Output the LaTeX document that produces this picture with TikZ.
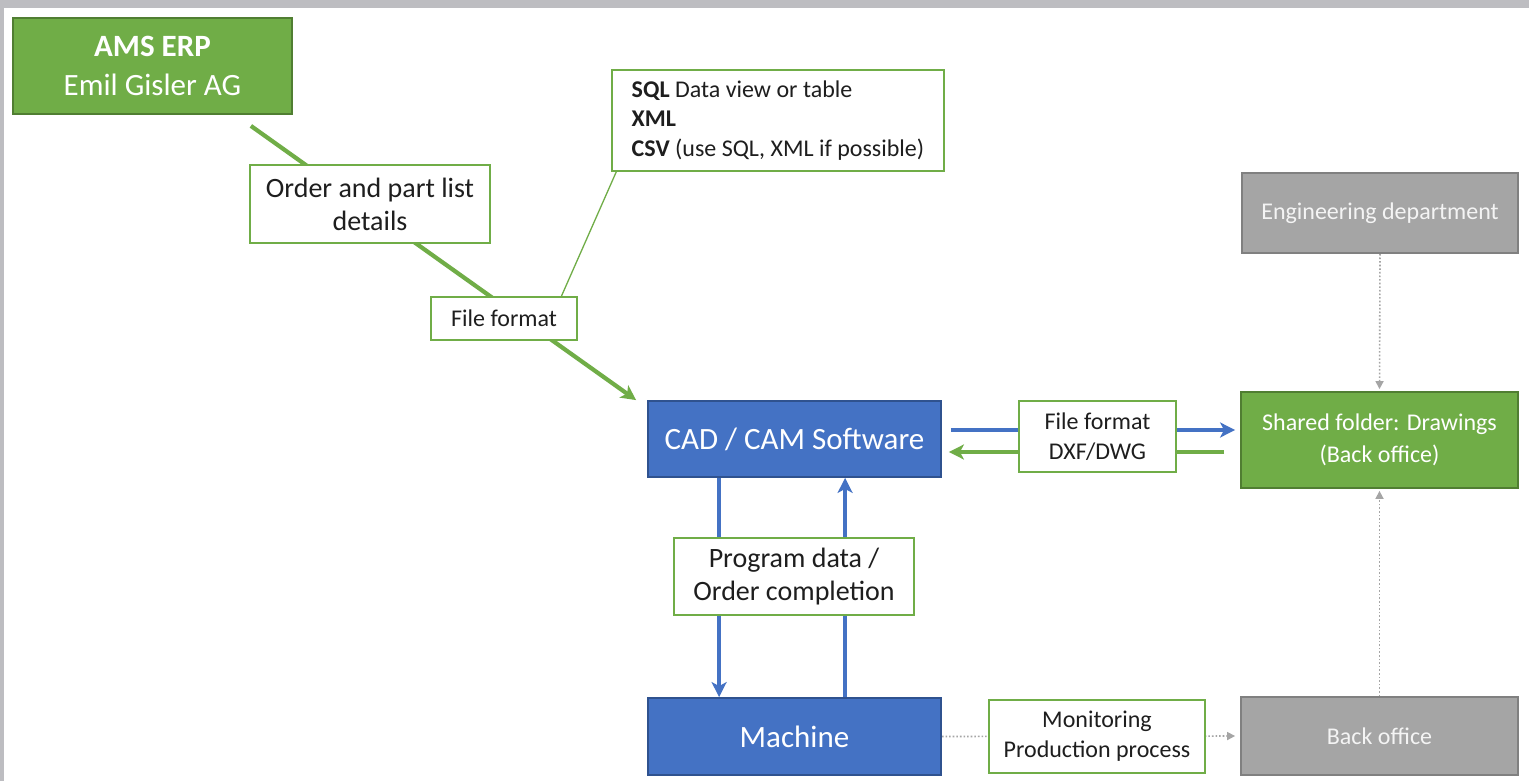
\documentclass[tikz,border=0pt]{standalone}
\usepackage{fontspec}
\setmainfont{Carlito}
\usetikzlibrary{arrows.meta,backgrounds}
\definecolor{fgreen}{HTML}{70AD47}
\definecolor{dgreen}{HTML}{507E32}
\definecolor{fblue}{HTML}{4472C4}
\definecolor{dblue}{HTML}{2F528F}
\definecolor{fgray}{HTML}{A5A5A5}
\definecolor{dgray}{HTML}{808080}
\definecolor{frame}{HTML}{BDBDC1}
\definecolor{txt}{HTML}{1E1E1E}
\definecolor{lgtxt}{HTML}{F4F4F4}
\begin{document}
\begin{tikzpicture}[x=1pt,y=-1pt,
  basebox/.style={rectangle, inner sep=0pt, align=center, line width=1.8pt},
  greenbox/.style={basebox, fill=fgreen, draw=dgreen, text=white},
  bluebox/.style={basebox, fill=fblue, draw=dblue, text=white},
  graybox/.style={basebox, fill=fgray, draw=dgray, text=lgtxt},
  labelbox/.style={rectangle, inner sep=0pt, align=center, fill=white, draw=fgreen, line width=1.3pt, text=txt},
  fbig/.style={font=\fontsize{31}{39}\selectfont},
  fmid/.style={font=\fontsize{28}{33}\selectfont},
  fsmall/.style={font=\fontsize{24}{30}\selectfont},
  gline/.style={draw=fgreen, line width=4.2pt},
  bline/.style={draw=fblue, line width=4.5pt},
  thinline/.style={draw=fgreen, line width=1.3pt},
  dotline/.style={draw=fgray, line width=1.6pt, dotted},
  bigtip/.style={-{Stealth[length=15pt,width=15pt,inset=4pt]}},
  smalltip/.style={-{Triangle[length=8pt,width=8pt]}}
]
\useasboundingbox (0,0) rectangle (1529,781);

% boxes
\node[greenbox, fbig, minimum width=279pt, minimum height=96pt] (ams) at (152.5,66)
  {\textbf{AMS ERP}\\Emil Gisler AG};
\node[labelbox, fmid, minimum width=240pt, minimum height=78pt] (order) at (370,204)
  {Order and part list\\details};
\node[labelbox, font=\fontsize{24}{29.5}\selectfont, align=left, minimum width=332pt, minimum height=101pt] (sql) at (778,120.5)
  {\textbf{SQL} Data view or table\\\textbf{XML}\\\textbf{CSV} (use SQL, XML if possible)};
\node[labelbox, fsmall, minimum width=146pt, minimum height=43pt] (ff) at (504,318.5)
  {File format};
\node[bluebox, fbig, minimum width=293pt, minimum height=76pt] (cad) at (794.5,439)
  {CAD / CAM Software};
\node[labelbox, fsmall, minimum width=157pt, minimum height=71pt] (dxf) at (1097.5,436.5)
  {File format\\DXF/DWG};
\node[greenbox, font=\fontsize{24}{32}\selectfont, minimum width=277pt, minimum height=96pt] (shared) at (1379.5,440)
  {Shared folder: Drawings\\(Back office)};
\node[graybox, fsmall, minimum width=276pt, minimum height=80pt] (eng) at (1380,213)
  {Engineering department};
\node[labelbox, fmid, minimum width=240pt, minimum height=77pt] (prog) at (794,576.5)
  {Program data /\\Order completion};
\node[bluebox, fbig, minimum width=293pt, minimum height=77pt] (machine) at (794.5,736.5)
  {Machine};
\node[labelbox, fsmall, minimum width=216pt, minimum height=73pt] (mon) at (1097,736.5)
  {Monitoring\\Production process};
\node[graybox, fsmall, minimum width=277pt, minimum height=78pt] (back) at (1379.5,736)
  {Back office};

\begin{scope}[on background layer]
  \fill[white] (0,0) rectangle (1529,781);
  \fill[frame] (0,0) rectangle (1529,8);
  \fill[frame] (0,0) rectangle (4,781);
  % connectors
  \draw[gline, bigtip] ([xshift=-42pt,yshift=-11pt]ams.south east) -- ([xshift=-11pt]cad.north west);
  \draw[thinline] ([xshift=5pt]sql.south west) -- ([xshift=131pt]ff.north west);
  \draw[bline, bigtip] ([xshift=9pt,yshift=9pt]cad.east) -- ([xshift=-5pt,yshift=10pt]shared.west);
  \draw[gline, bigtip] ([xshift=-16pt,yshift=-12pt]shared.west) -- ([xshift=7pt,yshift=-13pt]cad.east);
  \draw[bline, bigtip] ([xshift=72pt]cad.south west) -- ([xshift=72pt]machine.north west);
  \draw[bline, bigtip] ([xshift=198pt]machine.north west) -- ([xshift=198pt]cad.south west);
  \draw[dotline, smalltip, shorten >=2pt] (eng.south) -- (shared.north);
  \draw[dotline, smalltip, shorten >=2pt] (back.north) -- (shared.south);
  \draw[dotline, smalltip, shorten >=5pt] (machine.east) -- (back.west);
\end{scope}
\end{tikzpicture}
\end{document}
